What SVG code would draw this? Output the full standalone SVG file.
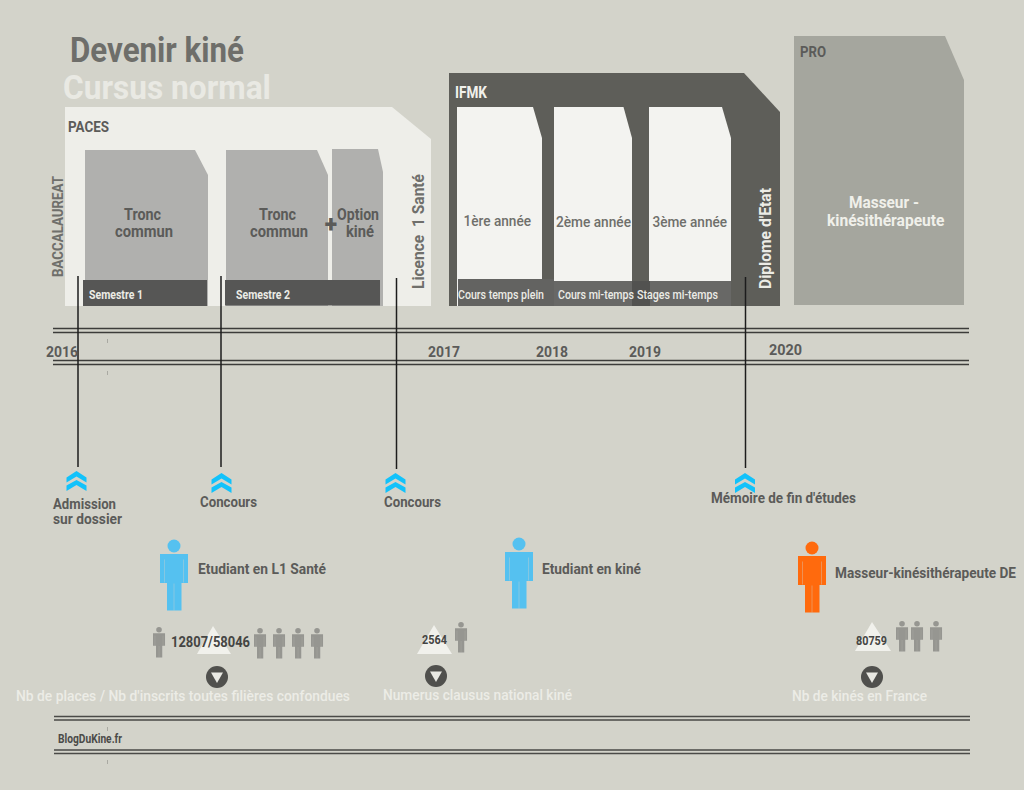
<svg xmlns="http://www.w3.org/2000/svg" xmlns:xlink="http://www.w3.org/1999/xlink" width="1024" height="790" viewBox="0 0 1024 790">
<style>
text{font-family:"Roboto","Liberation Sans",sans-serif;font-weight:700}
.dark{fill:#5b5b59}
.mid{fill:#6f6f6b}
.lite{fill:#ecece6}
.s12{font-size:12px}
.s14{font-size:14px}
.s15{font-size:15px}
.s16{font-size:16px}
.med{font-weight:500}
.rule{stroke:#3c3c3a;stroke-width:1.3;fill:none}
.rule2{stroke:#4a4a47;stroke-width:1.7;fill:none}
.conn{stroke:#1c1c1c;stroke-width:1.5;fill:none}
.chev{fill:#12c2fb}
.tri{fill:#f1f1ec}
.disc{fill:#50504d}
.dtri{fill:#e9e9e3}
.gray{color:#969691}
.speck{fill:#a9a9a2}
</style>
<defs>
<g id="person">
<circle cx="14" cy="6.5" r="6.5" fill="currentColor"/>
<path d="M0,14.5H28V43.5H21.5V71H7V43.5H0Z" fill="currentColor"/>
<path d="M4.5,20V43M23.5,20V43M14,44V71" stroke="#d3d3ca" stroke-width="0.7" stroke-opacity="0.55" fill="none"/>
</g>
<g id="chevron">
<path class="chev" d="M0,0L10,6.5V11.5L0,5.5L-10,11.5V6.5Z"/>
<path class="chev" d="M0,9L10,14.5V20L0,14L-10,20V14.5Z"/>
</g>
<g id="down">
<circle r="11" class="disc"/>
<path class="dtri" d="M-6,-4.5H6L0,6Z"/>
</g>
</defs>
<rect width="1024" height="790" fill="#d3d3ca"/>

<g id="rules">
<path class="rule" d="M53,328.500H969M53,332.500H969M53,360.500H969M53,364.500H969"/>
<path class="rule2" d="M54,716.500H970M54,720H970M54,750H970M54,753.500H970"/>
<rect class="speck" x="107" y="339" width="1" height="4"/>
<rect class="speck" x="107" y="371" width="1" height="4"/>
<rect class="speck" x="107" y="727" width="1" height="4"/>
<rect class="speck" x="107" y="760" width="1" height="4"/>
</g>

<g id="title">
<text x="70" y="62" font-size="35" fill="#6e6e6a" textLength="174" lengthAdjust="spacingAndGlyphs">Devenir kiné</text>
<text x="63" y="99" font-size="34" fill="#e9e9e3" textLength="208" lengthAdjust="spacingAndGlyphs">Cursus normal</text>
</g>

<g id="paces">
<path d="M65,107H392L431,139V306H65Z" fill="#eeeee9"/>
<text class="dark" font-size="15.5" x="68" y="132" textLength="41" lengthAdjust="spacingAndGlyphs">PACES</text>
<text class="mid" font-size="15.5" transform="translate(63,277) rotate(-90)" textLength="101" lengthAdjust="spacingAndGlyphs">BACCALAUREAT</text>
<text class="mid" font-size="16.5" transform="translate(424,289) rotate(-90)" xml:space="preserve" textLength="115" lengthAdjust="spacingAndGlyphs">Licence  1 Santé</text>
</g>
<g id="semestre1">
<path d="M85,150H195L208,175V306H85Z" fill="#b0b0ae"/>
<rect x="83" y="280" width="124" height="26" fill="#565655"/>
<text class="s16 dark" x="124" y="220" textLength="37" lengthAdjust="spacingAndGlyphs">Tronc</text>
<text class="s16 dark" x="115" y="237" textLength="58" lengthAdjust="spacingAndGlyphs">commun</text>
<text class="s12 lite" x="89" y="299" textLength="54" lengthAdjust="spacingAndGlyphs">Semestre 1</text>
</g>
<g id="semestre2">
<path d="M226,150H317L328,175V306H226Z" fill="#b0b0ae"/>
<path d="M332,149H378L383,172V306H332Z" fill="#b0b0ae"/>
<rect x="225" y="280" width="155" height="25.500" fill="#565655"/>
<text class="s16 dark" x="259" y="220" textLength="37" lengthAdjust="spacingAndGlyphs">Tronc</text>
<text class="s16 dark" x="250" y="237" textLength="58" lengthAdjust="spacingAndGlyphs">commun</text>
<text class="dark" x="331" y="232" font-size="23" style="font-weight:900" text-anchor="middle">+</text>
<text class="s16 dark" x="337" y="220" textLength="42" lengthAdjust="spacingAndGlyphs">Option</text>
<text class="s16 dark" x="346" y="237" textLength="28" lengthAdjust="spacingAndGlyphs">kiné</text>
<text class="s12 lite" x="236" y="299" textLength="54" lengthAdjust="spacingAndGlyphs">Semestre 2</text>
</g>

<g id="ifmk">
<path d="M449,73H744L780,112V306H449Z" fill="#5e5e59"/>
<text class="s16" fill="#f1f1ec" x="455" y="98" textLength="32" lengthAdjust="spacingAndGlyphs">IFMK</text>
<path d="M457,107H533L542,138V279H458V306H457Z" fill="#f3f3f0"/>
<path d="M554,107H623.500L632,138V281H554Z" fill="#f3f3f0"/>
<path d="M649,107H722L731,138V281H649Z" fill="#f3f3f0"/>
<rect x="458" y="279" width="96" height="27" fill="#636361"/>
<rect x="554" y="281" width="78" height="25" fill="#686866"/>
<rect x="632" y="281" width="18" height="25" fill="#525250"/>
<rect x="650" y="281" width="81" height="25" fill="#686866"/>
<text class="s15 mid med" x="463.500" y="226" textLength="67.500" lengthAdjust="spacingAndGlyphs">1ère année</text>
<text class="s15 mid med" x="556" y="227" textLength="75" lengthAdjust="spacingAndGlyphs">2ème année</text>
<text class="s15 mid med" x="652.500" y="227" textLength="74.500" lengthAdjust="spacingAndGlyphs">3ème année</text>
<text class="s12 lite med" x="458" y="299" textLength="86" lengthAdjust="spacingAndGlyphs">Cours temps plein</text>
<text class="s12 lite med" x="558" y="299" textLength="76" lengthAdjust="spacingAndGlyphs">Cours mi-temps</text>
<text class="s12 lite med" x="637" y="299" textLength="81" lengthAdjust="spacingAndGlyphs">Stages mi-temps</text>
<text class="lite" font-size="16.500" transform="translate(771,289) rotate(-90)" textLength="101" lengthAdjust="spacingAndGlyphs">Diplome d'Etat</text>
</g>

<g id="pro">
<path d="M794,36H945L964,80V305H794Z" fill="#a5a69e"/>
<text class="dark" font-size="15.500" x="800" y="57" textLength="26" lengthAdjust="spacingAndGlyphs">PRO</text>
<text class="s16" fill="#f0f0ea" x="849" y="208" textLength="70" lengthAdjust="spacingAndGlyphs">Masseur -</text>
<text class="s16" fill="#f0f0ea" x="827" y="226" textLength="117.500" lengthAdjust="spacingAndGlyphs">kinésithérapeute</text>
</g>

<g id="connectors">
<path class="conn" d="M78,276V467"/>
<path class="conn" d="M221,276V467"/>
<path class="conn" d="M396.500,278V469"/>
<path class="conn" d="M745.500,277V468"/>
</g>

<g id="years">
<text class="s14 dark" x="46" y="357" textLength="32" lengthAdjust="spacingAndGlyphs">2016</text>
<text class="s14 dark" x="428" y="357" textLength="32" lengthAdjust="spacingAndGlyphs">2017</text>
<text class="s14 dark" x="536" y="357" textLength="32" lengthAdjust="spacingAndGlyphs">2018</text>
<text class="s14 dark" x="629" y="357" textLength="32" lengthAdjust="spacingAndGlyphs">2019</text>
<text class="s14 dark" x="769" y="355" textLength="33" lengthAdjust="spacingAndGlyphs">2020</text>
</g>

<g id="milestone-admission">
<use xlink:href="#chevron" href="#chevron" x="76.500" y="471"/>
<text class="s15 dark" x="53" y="509" textLength="63" lengthAdjust="spacingAndGlyphs">Admission</text>
<text class="s15 dark" x="53" y="524" textLength="69" lengthAdjust="spacingAndGlyphs">sur dossier</text>
</g>
<g id="milestone-concours1">
<use xlink:href="#chevron" href="#chevron" x="221.500" y="473"/>
<text class="s15 dark" x="200" y="507" textLength="57" lengthAdjust="spacingAndGlyphs">Concours</text>
</g>
<g id="milestone-concours2">
<use xlink:href="#chevron" href="#chevron" x="395.500" y="473"/>
<text class="s15 dark" x="384" y="507" textLength="57" lengthAdjust="spacingAndGlyphs">Concours</text>
</g>
<g id="milestone-memoire">
<use xlink:href="#chevron" href="#chevron" x="745" y="473"/>
<text class="s15 dark" x="711" y="503" textLength="145" lengthAdjust="spacingAndGlyphs">Mémoire de fin d'études</text>
</g>

<g id="stat-l1">
<use xlink:href="#person" href="#person" x="160" y="539.500" color="#55c1f0"/>
<text class="s15 dark" x="198" y="574" textLength="128" lengthAdjust="spacingAndGlyphs">Etudiant en L1 Santé</text>
<path class="tri" d="M213,626L231,654H197Z"/>
<g class="gray">
<use xlink:href="#person" href="#person" transform="translate(153,627) scale(.43)"/>
<use xlink:href="#person" href="#person" transform="translate(254,628) scale(.43)"/>
<use xlink:href="#person" href="#person" transform="translate(273,628) scale(.43)"/>
<use xlink:href="#person" href="#person" transform="translate(292,628) scale(.43)"/>
<use xlink:href="#person" href="#person" transform="translate(311,628) scale(.43)"/>
</g>
<text class="s14" fill="#454543" x="171" y="647" textLength="79" lengthAdjust="spacingAndGlyphs">12807/58046</text>
<use xlink:href="#down" href="#down" x="217" y="677"/>
<text class="s15 lite med" x="16" y="701" textLength="334" lengthAdjust="spacingAndGlyphs">Nb de places / Nb d'inscrits toutes filières confondues</text>
</g>

<g id="stat-kine">
<use xlink:href="#person" href="#person" x="505" y="537.500" color="#55c1f0"/>
<text class="s15 dark" x="542" y="574" textLength="99" lengthAdjust="spacingAndGlyphs">Etudiant en kiné</text>
<path class="tri" d="M434,625L452,654H417Z"/>
<use class="gray" xlink:href="#person" href="#person" transform="translate(455,622) scale(.43)"/>
<text class="s12" fill="#454543" x="422" y="644" textLength="25" lengthAdjust="spacingAndGlyphs">2564</text>
<use xlink:href="#down" href="#down" x="436" y="676"/>
<text class="s15 lite med" x="383" y="700" textLength="189" lengthAdjust="spacingAndGlyphs">Numerus clausus national kiné</text>
</g>

<g id="stat-de">
<use xlink:href="#person" href="#person" x="798" y="541.500" color="#ff6a0d"/>
<text class="s15 dark" x="835" y="578" textLength="181" lengthAdjust="spacingAndGlyphs">Masseur-kinésithérapeute DE</text>
<path class="tri" d="M872,622L891,651H855Z"/>
<g class="gray">
<use xlink:href="#person" href="#person" transform="translate(896,621) scale(.43)"/>
<use xlink:href="#person" href="#person" transform="translate(911,621) scale(.43)"/>
<use xlink:href="#person" href="#person" transform="translate(930,621) scale(.43)"/>
</g>
<text class="s12" fill="#454543" x="856" y="645" textLength="31" lengthAdjust="spacingAndGlyphs">80759</text>
<use xlink:href="#down" href="#down" x="872" y="677"/>
<text class="s15 lite med" x="792" y="701" textLength="135" lengthAdjust="spacingAndGlyphs">Nb de kinés en France</text>
</g>

<g id="footer">
<text class="s12" fill="#4a4a48" x="58" y="743" textLength="64" lengthAdjust="spacingAndGlyphs">BlogDuKine.fr</text>
</g>
</svg>
